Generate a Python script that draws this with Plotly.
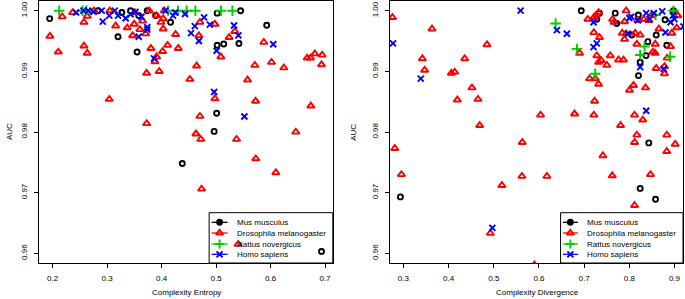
import plotly.graph_objects as go

# ---------------- data: left panel (Complexity Entropy) ----------------
mus_ent_x = [0.1945, 0.283, 0.327, 0.343, 0.358, 0.3736, 0.389, 0.4165, 0.320, 0.355,
             0.502, 0.545, 0.593, 0.502, 0.514, 0.542, 0.501, 0.4965, 0.438, 0.6936]
mus_ent_y = [0.9987, 1.000, 0.9997, 1.000, 0.9992, 1.000, 0.9992, 0.9981, 0.9957, 0.9932,
             0.9996, 1.000, 0.9976, 0.9943, 0.9945, 0.9946, 0.9831, 0.9801, 0.9748, 0.9603]

dro_ent_x = [0.195, 0.2103, 0.2176, 0.2367, 0.2574, 0.2635, 0.2574, 0.2635, 0.2758, 0.305,
             0.3039, 0.3156, 0.3369, 0.3468, 0.3497, 0.351, 0.3602, 0.3651, 0.3706, 0.3725,
             0.3725, 0.3774, 0.3804, 0.3878, 0.391, 0.3908, 0.3956, 0.3987, 0.4018, 0.403,
             0.403, 0.405, 0.411, 0.4257, 0.4305, 0.4519, 0.4642, 0.4684, 0.4703, 0.4703,
             0.463, 0.472, 0.4978, 0.4978, 0.5088, 0.524, 0.5345, 0.5376, 0.5578, 0.5712,
             0.5725, 0.5877, 0.6018, 0.6244, 0.6464, 0.6672, 0.6734, 0.6813, 0.6947, 0.674,
             0.6936, 0.573, 0.6097, 0.4734, 0.5406]
dro_ent_y = [0.9958, 0.9932, 0.9990, 0.9997, 0.9981, 0.9991, 0.9942, 0.9930, 1.000, 1.000,
             0.9854, 0.9975, 0.9972, 0.9959, 0.9978, 0.9997, 0.9969, 0.9983, 0.9962, 0.9897,
             0.9814, 1.000, 0.9938, 0.9916, 0.9992, 0.9924, 0.9900, 0.9981, 0.9933, 0.9987,
             0.9970, 1.000, 0.9943, 0.9961, 0.9938, 0.9887, 0.9909, 0.9959, 0.9981, 0.9826,
             0.9797, 0.9788, 0.9978, 0.9855, 0.9924, 0.9956, 0.9966, 0.9788, 0.9886, 0.9910,
             0.9851, 0.9948, 0.9915, 0.9906, 0.9800, 0.9922, 0.9922, 0.9929, 0.9927, 0.9843,
             0.9911, 0.9756, 0.9733, 0.9706, 0.9615]

rat_ent_x = [0.212, 0.255, 0.262, 0.412, 0.430, 0.446, 0.462, 0.509, 0.530]
rat_ent_y = [1.000, 1.000, 1.000, 1.000, 1.000, 1.000, 1.000, 1.000, 1.000]

hom_ent_x = [0.243, 0.2565, 0.265, 0.275, 0.290, 0.292, 0.304, 0.314, 0.320, 0.334,
             0.343, 0.352, 0.358, 0.363, 0.3736, 0.3736, 0.386, 0.407, 0.421, 0.425,
             0.443, 0.454, 0.461, 0.4685, 0.478, 0.4886, 0.501, 0.4965, 0.533, 0.541,
             0.552, 0.605]
hom_ent_y = [0.9997, 1.000, 1.000, 0.9998, 1.000, 0.9982, 0.9992, 1.000, 0.9992, 0.99875,
             0.9994, 0.9998, 0.9957, 0.9990, 0.9973, 0.9969, 0.99215, 1.000, 0.9992, 0.9997,
             0.99946, 0.9963, 0.99745, 0.9950, 0.9989, 0.9977, 0.9934, 0.9866, 0.99756, 0.99593,
             0.98255, 0.99447]

# ---------------- data: right panel (Complexity Divergence) ----------------
mus_div_x = [0.6936, 0.734, 0.728, 0.7688, 0.772, 0.8055, 0.820, 0.841, 0.824, 0.8203,
             0.837, 0.8595, 0.879, 0.8829, 0.8977, 0.8431, 0.2934, 0.824, 0.858]
mus_div_y = [1.000, 0.9996, 0.9986, 0.9996, 0.9979, 0.9960, 0.9993, 0.9949, 0.9915, 0.9893,
             0.9926, 0.9960, 0.9985, 0.9943, 1.000, 0.9782, 0.9693, 0.9707, 0.9689]

dro_div_x = [0.2757, 0.2808, 0.3633, 0.342, 0.347, 0.4061, 0.4134, 0.4356, 0.4517, 0.4194,
             0.465, 0.4849, 0.4688, 0.5631, 0.6036, 0.6788, 0.6899, 0.7082, 0.7215, 0.7268,
             0.732, 0.7215, 0.734, 0.728, 0.732, 0.7246, 0.712, 0.7378, 0.732, 0.723,
             0.7215, 0.7503, 0.7578, 0.763, 0.766, 0.776, 0.787, 0.7843, 0.7931, 0.7894,
             0.793, 0.7894, 0.8004, 0.8093, 0.8115, 0.813, 0.824, 0.8166, 0.8298, 0.8358,
             0.7806, 0.8166, 0.8115, 0.8188, 0.832, 0.8431, 0.8484, 0.8653, 0.8573, 0.852,
             0.857, 0.8595, 0.8778, 0.8778, 0.8838, 0.8911, 0.894, 0.905, 0.8829, 0.9015,
             0.9072, 0.8829, 0.2956, 0.518, 0.5623, 0.6175, 0.4924, 0.7415, 0.7622, 0.8115,
             0.8469, 0.590]
dro_div_y = [0.9989, 0.9773, 0.9970, 0.9921, 0.9902, 0.9897, 0.9899, 0.9921, 0.9873, 0.9853,
             0.9854, 0.9944, 0.9811, 0.9783, 0.9828, 0.9830, 0.9930, 0.9986, 0.9989, 0.9993,
             0.9997, 0.9964, 0.9956, 0.9926, 0.9915, 0.9888, 0.9888, 0.9918, 0.9879, 0.9851,
             0.9828, 0.9910, 0.9926, 0.9986, 0.9981, 0.9919, 0.9919, 0.9963, 0.9962, 0.9953,
             1.000, 0.9982, 0.9869, 0.9877, 0.9828, 0.9963, 0.9960, 0.9945, 0.9820, 0.9873,
             0.9811, 0.9795, 0.9783, 0.9984, 0.9986, 0.9984, 0.9992, 0.9970, 0.9945, 0.9932,
             0.9930, 0.9905, 0.9908, 0.9896, 0.9922, 0.9941, 0.9963, 0.9972, 0.9795, 0.9780,
             0.9992, 0.9768, 0.9730, 0.9712, 0.9727, 0.9727, 0.9633, 0.9761, 0.9728, 0.9679,
             0.9730, 0.9581]

rat_div_x = [0.6368, 0.684, 0.7246, 0.8336, 0.824, 0.858, 0.8904, 0.8977]
rat_div_y = [0.9979, 0.9937, 0.9896, 0.9941, 0.9927, 0.9993, 0.9924, 1.000]

hom_div_x = [0.5594, 0.277, 0.3383, 0.6397, 0.6618, 0.7208, 0.7208, 0.728, 0.8042, 0.800,
             0.7967, 0.8188, 0.824, 0.8373, 0.8373, 0.8447, 0.8543, 0.8728, 0.880, 0.8763,
             0.8911, 0.8963, 0.900, 0.9198, 0.4968]
hom_div_y = [1.000, 0.9946, 0.9888, 0.9968, 0.9962, 0.9981, 0.9940, 0.9946, 0.9990, 0.9988,
             0.9962, 0.9984, 0.9907, 0.9835, 0.9996, 0.9986, 0.9996, 0.9999, 0.9964, 0.9904,
             0.9981, 0.9992, 0.9986, 0.9974, 0.9642]

species = ["Mus musculus", "Drosophila melanogaster", "Rattus novergicus", "Homo sapiens"]
colors = ["#000000", "#FF0000", "#00CD00", "#0000FF"]
symbols = ["circle-open", "triangle-up-open", "cross-thin-open", "x-thin-open"]
sizes = [5, 6.5, 7.5, 6]

x_ticks_left = [0.2, 0.3, 0.4, 0.5, 0.6, 0.7]
x_ticks_right = [0.3, 0.4, 0.5, 0.6, 0.7, 0.8, 0.9]
y_ticks = [0.96, 0.97, 0.98, 0.99, 1.00]

left_sets = [(mus_ent_x, mus_ent_y), (dro_ent_x, dro_ent_y), (rat_ent_x, rat_ent_y), (hom_ent_x, hom_ent_y)]
right_sets = [(mus_div_x, mus_div_y), (dro_div_x, dro_div_y), (rat_div_x, rat_div_y), (hom_div_x, hom_div_y)]

FONT = "Liberation Sans, Arial, Helvetica, sans-serif"
MLW = 1.9

fig = go.Figure()

for (xs, ys), c, s, sz in zip(left_sets, colors, symbols, sizes):
    fig.add_trace(go.Scatter(x=xs, y=ys, mode="markers", xaxis="x", yaxis="y", showlegend=False,
                             marker=dict(symbol=s, size=sz, color=c, line=dict(color=c, width=MLW))))
for (xs, ys), c, s, sz in zip(right_sets, colors, symbols, sizes):
    fig.add_trace(go.Scatter(x=xs, y=ys, mode="markers", xaxis="x2", yaxis="y2", showlegend=False,
                             marker=dict(symbol=s, size=sz, color=c, line=dict(color=c, width=MLW))))

# ---------------- manual legends (paper coordinates via overlay axes) ----------------
leg_rows = [0.1553, 0.1145, 0.0725, 0.0332]
legends = [
    dict(box=(0.2642, 0.4562, 0.0, 0.192), line=(0.268, 0.2928), mk=0.2804, txt=0.3041),
    dict(box=(0.8099, 1.0, 0.0, 0.192), line=(0.8135, 0.8368), mk=0.8251, txt=0.8483),
]
shapes = []
annotations = []
for L in legends:
    x0, x1, y0, y1 = L["box"]
    shapes.append(dict(type="rect", xref="paper", yref="paper", x0=x0, x1=x1, y0=y0, y1=y1,
                       line=dict(color="black", width=1), fillcolor="rgba(0,0,0,0)"))
    for yr, name, c, s, sz in zip(leg_rows, species, colors, symbols, sizes):
        fig.add_trace(go.Scatter(x=[L["line"][0], L["line"][1]], y=[yr, yr], mode="lines",
                                 xaxis="x3", yaxis="y3", showlegend=False,
                                 line=dict(color=c, width=1.3), hoverinfo="skip"))
        fig.add_trace(go.Scatter(x=[L["mk"]], y=[yr], mode="markers", xaxis="x3", yaxis="y3",
                                 showlegend=False, hoverinfo="skip",
                                 marker=dict(symbol="circle" if s == "circle-open" else s,
                                             size=min(sz, 6.5), color=c, line=dict(color=c, width=MLW))))
        annotations.append(dict(xref="paper", yref="paper", x=L["txt"], y=yr, text=name,
                                showarrow=False, xanchor="left", yanchor="middle",
                                font=dict(size=8, color="black", family=FONT)))

# axis titles
annotations += [
    dict(xref="paper", yref="paper", x=0.2286, y=-0.114, text="Complexity Entropy", showarrow=False,
         xanchor="center", yanchor="middle", font=dict(size=8, color="black", family=FONT)),
    dict(xref="paper", yref="paper", x=0.7735, y=-0.114, text="Complexity Divergence", showarrow=False,
         xanchor="center", yanchor="middle", font=dict(size=8, color="black", family=FONT)),
    dict(xref="paper", yref="paper", x=-0.0465, y=0.5, text="AUC", showarrow=False, textangle=-90,
         xanchor="center", yanchor="middle", font=dict(size=8, color="black", family=FONT)),
    dict(xref="paper", yref="paper", x=0.4872, y=0.5, text="AUC", showarrow=False, textangle=-90,
         xanchor="center", yanchor="middle", font=dict(size=8, color="black", family=FONT)),
]

ax_common = dict(showgrid=False, zeroline=False, showline=True, linecolor="black", linewidth=1,
                 mirror=True, ticks="outside", ticklen=4, tickcolor="black", tickwidth=1,
                 tickfont=dict(size=8, color="black", family=FONT))

fig.update_layout(
    width=685, height=299,
    margin=dict(l=39, r=1.5, t=1, b=36),
    paper_bgcolor="white", plot_bgcolor="rgba(0,0,0,0)",
    showlegend=False,
    xaxis=dict(domain=[0, 0.4562], range=[0.1749, 0.7143], tickvals=x_ticks_left, tickformat=".1f",
               anchor="y", ticklabelstandoff=3, **ax_common),
    yaxis=dict(domain=[0, 1], range=[0.9584, 1.0016], tickvals=y_ticks, tickformat=".2f",
               tickangle=-90, anchor="x", ticklabelstandoff=4, **ax_common),
    xaxis2=dict(domain=[0.5446, 1.0], range=[0.2697, 0.9188], tickvals=x_ticks_right, tickformat=".1f",
                anchor="y2", ticklabelstandoff=3, **ax_common),
    yaxis2=dict(domain=[0, 1], range=[0.9584, 1.0016], tickvals=y_ticks, tickformat=".2f",
                tickangle=-90, anchor="x2", ticklabelstandoff=4, **ax_common),
    xaxis3=dict(domain=[0, 1], range=[0, 1], visible=False, anchor="y3", fixedrange=True),
    yaxis3=dict(domain=[0, 1], range=[0, 1], visible=False, anchor="x3", fixedrange=True),
    shapes=shapes,
    annotations=annotations,
    font=dict(family=FONT, size=8, color="black"),
)

fig.write_html("out.html", config={"displayModeBar": False},
               post_script="document.body.style.margin='0px';document.body.style.overflow='hidden';")
